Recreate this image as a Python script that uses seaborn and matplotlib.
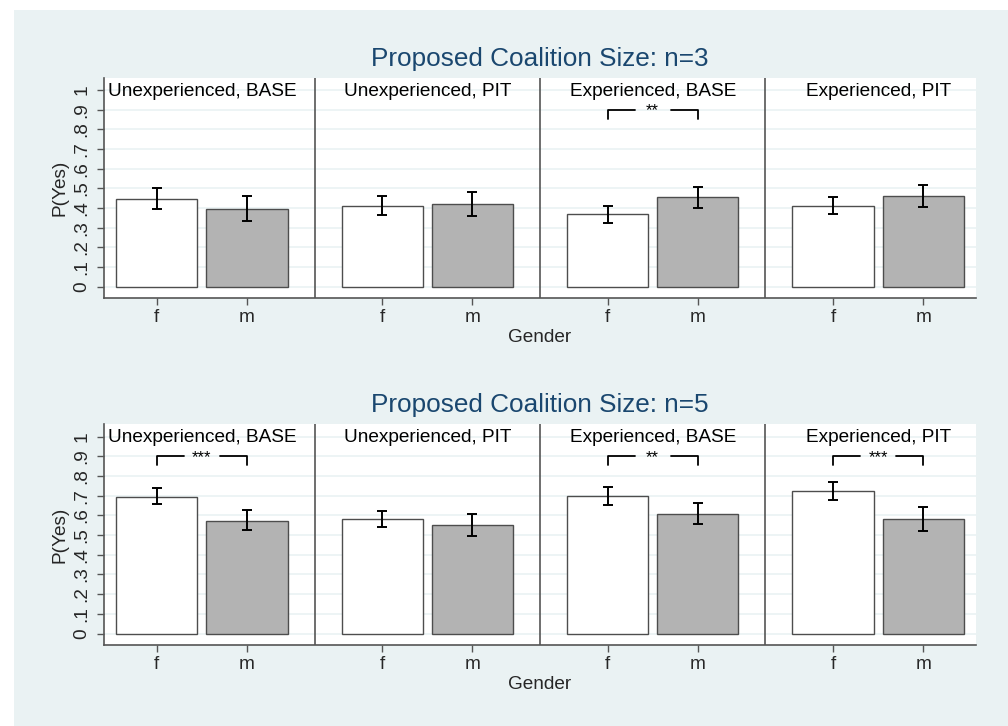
import numpy as np
import pandas as pd
import matplotlib
matplotlib.use("Agg")
import matplotlib.pyplot as plt
import seaborn as sns

# ---------------- data ----------------
groups = ["Unexperienced, BASE", "Unexperienced, PIT", "Experienced, BASE", "Experienced, PIT"]
genders = ["f", "m"]

n3_mean_f = [0.447, 0.412, 0.368, 0.412]
n3_mean_m = [0.397, 0.420, 0.454, 0.461]
n3_lo_f = [0.395, 0.363, 0.324, 0.368]
n3_hi_f = [0.503, 0.460, 0.412, 0.456]
n3_lo_m = [0.336, 0.359, 0.399, 0.405]
n3_hi_m = [0.461, 0.483, 0.507, 0.517]
n3_sig = ["", "", "**", ""]

n5_mean_f = [0.695, 0.581, 0.698, 0.723]
n5_mean_m = [0.573, 0.552, 0.608, 0.583]
n5_lo_f = [0.656, 0.539, 0.652, 0.679]
n5_hi_f = [0.737, 0.623, 0.746, 0.767]
n5_lo_m = [0.524, 0.496, 0.556, 0.520]
n5_hi_m = [0.625, 0.608, 0.663, 0.644]
n5_sig = ["***", "", "**", "***"]

titles = ["Proposed Coalition Size: n=3", "Proposed Coalition Size: n=5"]
ytick_vals = [0, .1, .2, .3, .4, .5, .6, .7, .8, .9, 1]
ytick_labels = ["0", ".1", ".2", ".3", ".4", ".5", ".6", ".7", ".8", ".9", "1"]

# ---------------- style ----------------
sns.set_style("white")
plt.rcParams["font.family"] = ["Liberation Sans", "DejaVu Sans"]

BG = "#eaf2f3"
AXC = "#555555"
TITLEC = "#1a476f"
GROUP_STEP = 2.5
FS = 13.7

fig = plt.figure(figsize=(10.08, 7.26), dpi=100)
fig.patch.set_facecolor("white")
fig.patches.append(plt.Rectangle((14 / 1008, 0), 1, 1 - 10 / 726, transform=fig.transFigure,
                                 facecolor=BG, edgecolor="none", zorder=-10))

W, H = 1008, 726
ax_specs = [(104, 78, 298), (104, 424.3, 645)]

panels = [
    (n3_mean_f, n3_mean_m, n3_lo_f, n3_hi_f, n3_lo_m, n3_hi_m, n3_sig),
    (n5_mean_f, n5_mean_m, n5_lo_f, n5_hi_f, n5_lo_m, n5_hi_m, n5_sig),
]

for k, (spec, pdata) in enumerate(zip(ax_specs, panels)):
    left, top, bottom = spec
    ax = fig.add_axes([left / W, 1 - bottom / H, 872 / W, (bottom - top) / H])
    mf, mm, lf, hf, lm, hm, sig = pdata

    rows = []
    for g in range(len(groups)):
        for j, gen in enumerate(genders):
            mean = [mf, mm][j][g]
            lo = [lf, lm][j][g]
            hi = [hf, hm][j][g]
            rows.append(dict(group=groups[g], gender=gen, pos=g * GROUP_STEP + j,
                             mean=mean, lo=lo, hi=hi))
    df = pd.DataFrame(rows)

    ax.set_facecolor("white")
    for yv in ytick_vals:
        ax.axhline(yv, color=BG, lw=1.2, zorder=0)

    sns.barplot(data=df, x="pos", y="mean", hue="gender", hue_order=genders,
                palette={"f": "white", "m": "#b3b3b3"}, native_scale=True, dodge=False,
                width=0.9, edgecolor="#4d4d4d", linewidth=1.0, errorbar=None,
                legend=False, ax=ax, zorder=2)

    ax.errorbar(df["pos"], df["mean"], yerr=[df["mean"] - df["lo"], df["hi"] - df["mean"]],
                fmt="none", ecolor="black", elinewidth=1.4, capsize=3.4, capthick=1.4, zorder=3)

    # dividers
    for g in range(1, len(groups)):
        xd = (g - 1) * GROUP_STEP + 1 + (GROUP_STEP - 1) / 2
        ax.axvline(xd, color=AXC, lw=1.2, zorder=4)

    # panel labels and significance brackets
    for g in range(len(groups)):
        xc = g * GROUP_STEP + 0.5
        ax.text(xc, 0.995, groups[g], ha="center", va="center", fontsize=FS, color="black", zorder=5)
        if sig[g]:
            x0, x1 = g * GROUP_STEP, g * GROUP_STEP + 1
            gap = 0.2
            ax.plot([x0, x0, xc - gap], [0.855, 0.9, 0.9], color="black", lw=1.3, zorder=5)
            ax.plot([xc + gap, x1, x1], [0.9, 0.9, 0.855], color="black", lw=1.3, zorder=5)
            ax.text(xc, 0.895, sig[g], ha="center", va="center", fontsize=12, color="black", zorder=5)

    ax.set_xlim(-0.585, 3 * GROUP_STEP + 1 + 0.585)
    ax.set_ylim(-0.058, 1.062)
    ax.set_xticks(df["pos"])
    ax.set_xticklabels(df["gender"], fontsize=FS)
    ax.set_yticks(ytick_vals)
    ax.set_yticklabels(ytick_labels, rotation=90, va="center", fontsize=FS)
    ax.tick_params(axis="both", direction="out", length=5, width=1, color=AXC, bottom=True, left=True)
    ax.tick_params(axis="y", pad=5)
    ax.tick_params(axis="x", pad=3)
    for s in ["top", "right"]:
        ax.spines[s].set_visible(False)
    for s in ["left", "bottom"]:
        ax.spines[s].set_color(AXC)
        ax.spines[s].set_linewidth(1.2)
    ax.set_ylabel("P(Yes)", fontsize=FS)
    ax.yaxis.set_label_coords(-0.041, 0.5)
    ax.set_xlabel("Gender", fontsize=FS, labelpad=2)
    ax.set_title(titles[k], fontsize=18.8, color=TITLEC, pad=9)

fig.savefig("out.png", dpi=100, facecolor=fig.get_facecolor())
